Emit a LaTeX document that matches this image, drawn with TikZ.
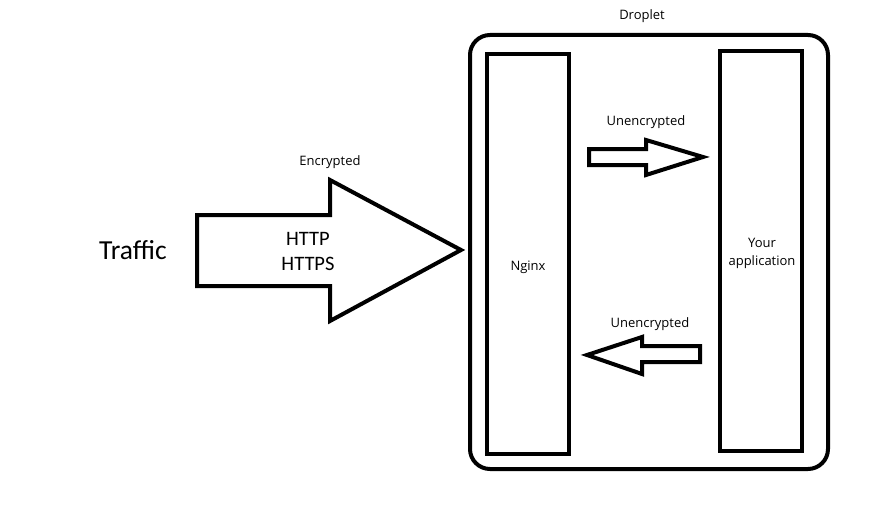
\documentclass[tikz,border=0pt]{standalone}
\usepackage{fontspec}
\setmainfont{Carlito}
\newfontfamily\smallfont{Open Sans}
\begin{document}
\begin{tikzpicture}[x=1pt,y=-1pt,
  thick line/.style={line width=4pt, draw=black},
  lbl/.style={font=\smallfont\fontsize{13}{15}\selectfont, inner sep=0pt},
  big/.style={font=\fontsize{20.5}{25}\selectfont, inner sep=0pt, align=center}]
\useasboundingbox (0,0) rectangle (873,511);
% droplet
\draw[thick line, rounded corners=20pt] (470,35) rectangle (828,469);
\node[lbl] (droplet) at (642,16) {Droplet};
% nginx
\draw[thick line] (487,54) rectangle (569,454);
\node[lbl] (nginx) at (528,267) {Nginx};
% application
\draw[thick line] (720,51) rectangle (802,451);
\node[lbl, align=center, font=\smallfont\fontsize{13}{18}\selectfont] (app) at (762,253) {Your\\application};
% big arrow
\draw[thick line, line join=miter] (197,215) -- (330,215) -- (330,180) -- (461,250) -- (330,321) -- (330,286) -- (197,286) -- cycle;
\node[big, font=\fontsize{20.5}{25}\selectfont] (proto) at (308,251) {HTTP\\HTTPS};
\node[lbl] (enc) at (330,162) {Encrypted};
\node[inner sep=0pt, font=\fontsize{27.5}{30}\selectfont] (traffic) at (133,250) {Traffic};
% top small arrow
\draw[thick line, line join=miter] (589,149) -- (646,149) -- (646,140) -- (703,157) -- (646,175) -- (646,165) -- (589,165) -- cycle;
\node[lbl] (u1) at (646,122) {Unencrypted};
% bottom small arrow
\draw[thick line, line join=miter] (700,346) -- (642,346) -- (642,337) -- (587,355) -- (642,374) -- (642,362) -- (700,362) -- cycle;
\node[lbl] (u2) at (650,324) {Unencrypted};
\end{tikzpicture}
\end{document}
